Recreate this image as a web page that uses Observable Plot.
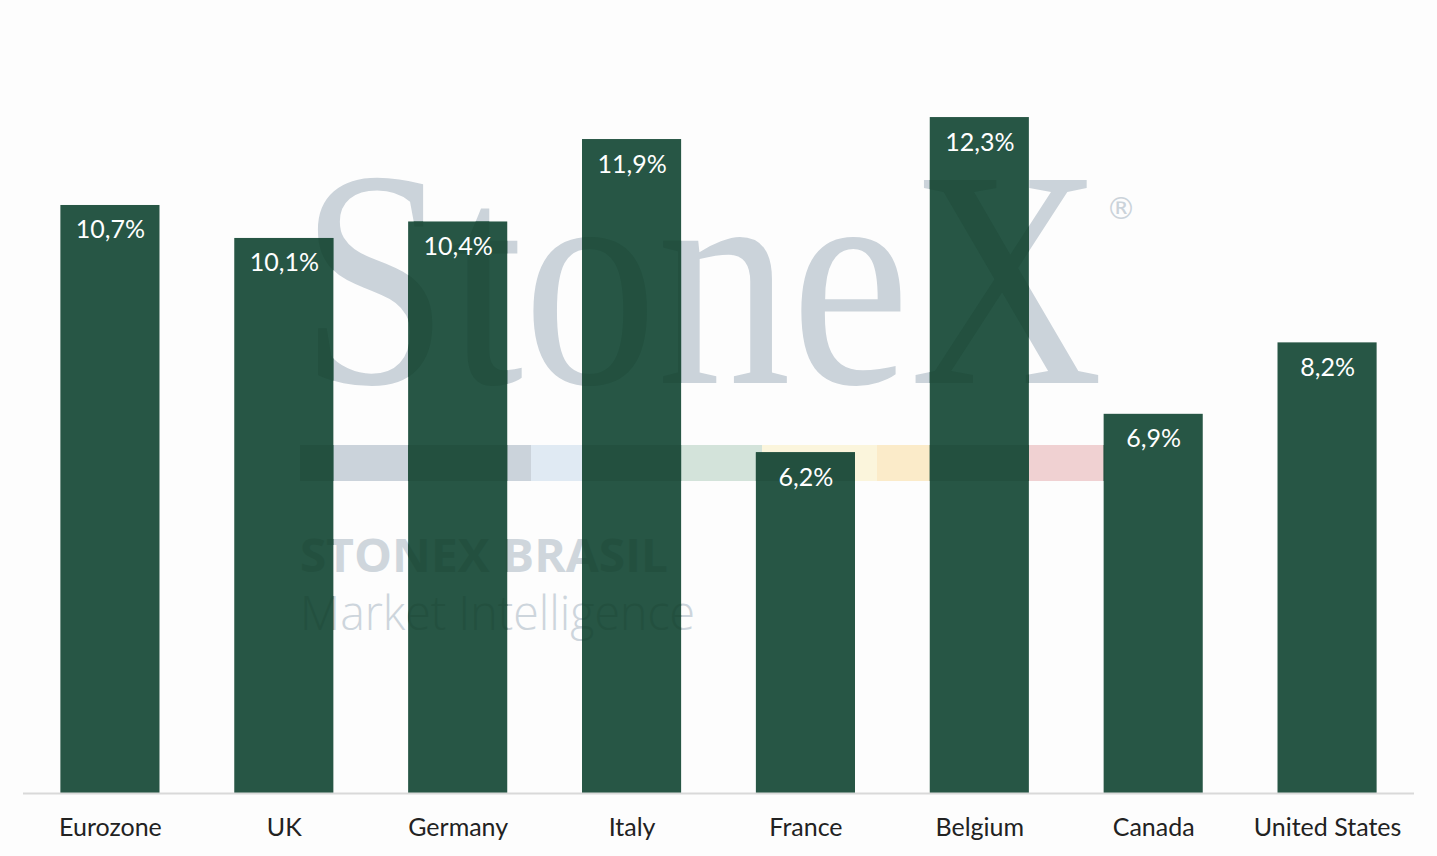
<!DOCTYPE html>
<html>
<head>
<meta charset="utf-8">
<script src="https://cdn.jsdelivr.net/npm/d3@7"></script>
<script src="https://cdn.jsdelivr.net/npm/@observablehq/plot@0.6"></script>
<style>
  html, body { margin: 0; padding: 0; background: #fdfdfd; }
  #chart svg { display: block; }
</style>
</head>
<body>
<div id="chart"></div>
<script>
const countries = ["Eurozone", "UK", "Germany", "Italy", "France", "Belgium", "Canada", "United States"];
const values = [10.7, 10.1, 10.4, 11.9, 6.2, 12.3, 6.9, 8.2];
const valueLabels = ["10,7%", "10,1%", "10,4%", "11,9%", "6,2%", "12,3%", "6,9%", "8,2%"];

const data = countries.map((c, i) => ({country: c, value: values[i], label: valueLabels[i]}));

const chart = Plot.plot({
  width: 1437,
  height: 856,
  marginLeft: 23,
  marginRight: 23,
  marginTop: 0,
  marginBottom: 63,
  style: {fontFamily: "Lato, 'Open Sans', sans-serif", background: "#fdfdfd", color: "#222"},
  x: {domain: countries, paddingInner: 0.43, paddingOuter: 0.215, round: false, label: null},
  y: {domain: [0, 14.43], axis: null},
  marks: [
    Plot.barY(data, {x: "country", y: "value", fill: "#275645"}),
    Plot.ruleY([0], {stroke: "#d9d9d9", strokeWidth: 2}),
    Plot.text(data, {x: "country", y: "value", text: "label", dy: 25, fill: "white", fontSize: 25}),
    Plot.axisX({tickSize: 0, tickPadding: 25, fontSize: 25, fill: "#222", label: null})
  ]
});

document.getElementById("chart").appendChild(chart);

// Faint StoneX watermark (logo decoration)
const svg = d3.select(chart);
const stripe = [
  [300, 531, "#cbd3db"], [531, 645, "#e0eaf3"], [645, 762, "#d3e3da"],
  [762, 877, "#fbf5dc"], [877, 992, "#fbebc9"], [992, 1105, "#f0d1d2"]
];
function drawWatermark(g, override) {
  g.attr("text-anchor", "start");
  g.append("text")
    .attr("x", 300).attr("y", 383)
    .attr("font-family", "'Liberation Serif', 'DejaVu Serif', serif")
    .attr("font-size", 310)
    .attr("textLength", 803).attr("lengthAdjust", "spacingAndGlyphs")
    .attr("fill", override || "#cbd3da")
    .text("StoneX");
  g.append("text")
    .attr("x", 1106).attr("y", 219)
    .attr("font-family", "'DejaVu Sans', sans-serif")
    .attr("font-size", 30)
    .attr("fill", override || "#cbd3da")
    .text("®");
  stripe.forEach(([a, b, c]) => {
    g.append("rect").attr("x", a).attr("y", 445).attr("width", b - a).attr("height", 36).attr("fill", override || c);
  });
  g.append("text")
    .attr("x", 300).attr("y", 572)
    .attr("font-family", "'Open Sans', sans-serif").attr("font-weight", 700)
    .attr("font-size", 47)
    .attr("textLength", 368).attr("lengthAdjust", "spacingAndGlyphs")
    .attr("fill", override || "#cfd6dc")
    .text("STONEX BRASIL");
  g.append("text")
    .attr("x", 300).attr("y", 630)
    .attr("font-family", "'Open Sans', sans-serif").attr("font-weight", 300)
    .attr("font-size", 47)
    .attr("textLength", 395).attr("lengthAdjust", "spacingAndGlyphs")
    .attr("fill", override || "#cdd5dc")
    .text("Market Intelligence");
}
// under the bars
drawWatermark(svg.insert("g", "g").attr("aria-label", "watermark"));
// faint darkening where the watermark crosses the bars
const clip = svg.append("defs").append("clipPath").attr("id", "bar-clip");
svg.selectAll("g[aria-label='bar'] rect").each(function() {
  clip.node().appendChild(this.cloneNode(true));
});
const barLabels = svg.select("g[aria-label='text']").node();
const over = svg.insert("g", () => barLabels).attr("aria-label", "watermark-over").attr("clip-path", "url(#bar-clip)");
drawWatermark(over, "#23503f");
</script>
</body>
</html>
